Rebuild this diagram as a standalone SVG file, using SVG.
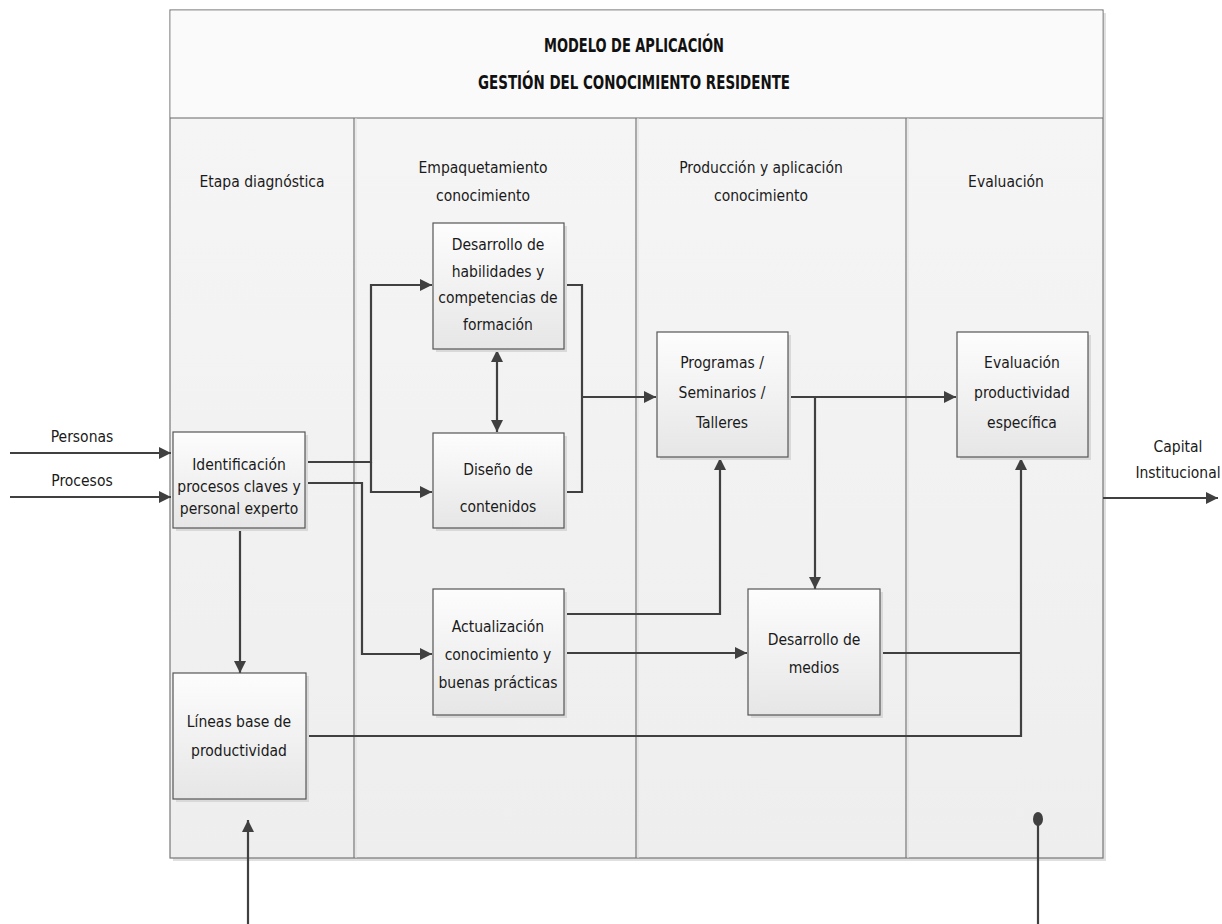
<svg xmlns="http://www.w3.org/2000/svg" width="1222" height="924" viewBox="0 0 1222 924">
<style>
.t{font-family:"Liberation Sans Narrow","DejaVu Sans Condensed","Liberation Sans",sans-serif;font-size:15.5px;fill:#1a1a1a;text-anchor:middle}
.h{font-family:"Liberation Sans Narrow","DejaVu Sans Condensed","Liberation Sans",sans-serif;font-size:19px;font-weight:bold;fill:#111;text-anchor:middle}
.box{fill:url(#ng);stroke:#555;stroke-width:1.2}
.sh{fill:#d9d9d9}
.c{fill:none;stroke:#404040;stroke-width:2.2}
.div{stroke:#777;stroke-width:1.2}
.divl{stroke:#ddd;stroke-width:1}
</style>
<defs>
<linearGradient id="ng" x1="0" y1="0" x2="0" y2="1"><stop offset="0" stop-color="#fdfdfd"/><stop offset="1" stop-color="#e6e6e6"/></linearGradient>
<linearGradient id="bg" x1="0" y1="0" x2="0" y2="1"><stop offset="0" stop-color="#f6f6f6"/><stop offset="1" stop-color="#eeeeee"/></linearGradient>
<marker id="ab" viewBox="0 0 10 10" refX="10" refY="5" markerWidth="12" markerHeight="12" markerUnits="userSpaceOnUse" orient="auto-start-reverse"><path d="M0,0 L10,5 L0,10 z" fill="#404040"/></marker>
</defs>
<rect width="1222" height="924" fill="#fff"/>
<g id="frame">
<rect x="173" y="13" width="933" height="848" fill="#e0e0e0"/>
<rect x="170" y="10" width="933" height="848" fill="url(#bg)" stroke="#777" stroke-width="1.2"/>
<rect x="170.6" y="10.6" width="931.8" height="107.4" fill="#fafafa"/>
<line x1="170" y1="118" x2="1103" y2="118" stroke="#666" stroke-width="1.2"/>
<line class="div" x1="354" y1="118" x2="354" y2="858"/><line class="divl" x1="356" y1="118" x2="356" y2="858"/>
<line class="div" x1="636" y1="118" x2="636" y2="858"/><line class="divl" x1="638" y1="118" x2="638" y2="858"/>
<line class="div" x1="906" y1="118" x2="906" y2="858"/><line class="divl" x1="908" y1="118" x2="908" y2="858"/>
<text class="h" x="634" y="52" textLength="180" lengthAdjust="spacingAndGlyphs">MODELO DE APLICACIÓN</text>
<text class="h" x="634" y="89" textLength="312" lengthAdjust="spacingAndGlyphs">GESTIÓN DEL CONOCIMIENTO RESIDENTE</text>
<text class="t" x="262" y="187">Etapa diagnóstica</text>
<text class="t" x="483" y="173">Empaquetamiento</text>
<text class="t" x="483" y="201">conocimiento</text>
<text class="t" x="761" y="173">Producción y aplicación</text>
<text class="t" x="761" y="201">conocimiento</text>
<text class="t" x="1006" y="187">Evaluación</text>
</g>
<g id="connectors">
<line class="c" x1="10" y1="453" x2="171" y2="453" marker-end="url(#ab)"/>
<line class="c" x1="10" y1="497" x2="171" y2="497" marker-end="url(#ab)"/>
<polyline class="c" points="305,462 371,462 371,285 432,285" marker-end="url(#ab)"/>
<polyline class="c" points="371,462 371,492 432,492" marker-end="url(#ab)"/>
<polyline class="c" points="305,483 362,483 362,654 432,654" marker-end="url(#ab)"/>
<line class="c" x1="240" y1="528" x2="240" y2="673" marker-end="url(#ab)"/>
<line class="c" x1="497" y1="350" x2="497" y2="432" marker-start="url(#ab)" marker-end="url(#ab)"/>
<polyline class="c" points="564,285 582,285 582,492 564,492"/>
<line class="c" x1="582" y1="397" x2="656" y2="397" marker-end="url(#ab)"/>
<line class="c" x1="788" y1="397" x2="956" y2="397" marker-end="url(#ab)"/>
<line class="c" x1="815" y1="397" x2="815" y2="589" marker-end="url(#ab)"/>
<polyline class="c" points="564,614 720,614 720,458" marker-end="url(#ab)"/>
<line class="c" x1="564" y1="653" x2="747" y2="653" marker-end="url(#ab)"/>
<line class="c" x1="880" y1="653" x2="1021" y2="653"/>
<polyline class="c" points="305,736 1021,736 1021,458" marker-end="url(#ab)"/>
<line class="c" x1="1103" y1="498" x2="1218" y2="498" marker-end="url(#ab)"/>
<line class="c" x1="248" y1="924" x2="248" y2="820" marker-end="url(#ab)"/>
<line class="c" x1="1038" y1="924" x2="1038" y2="822"/>
<ellipse cx="1038" cy="819" rx="5" ry="7" fill="#404040"/>
<text class="t" x="82" y="442">Personas</text>
<text class="t" x="82" y="486">Procesos</text>
<text class="t" x="1178" y="452">Capital</text>
<text class="t" x="1178" y="478">Institucional</text>
</g>
<g id="n_ident"><rect class="sh" x="176" y="435" width="132" height="96"/><rect class="box" x="173" y="432" width="132" height="96"/>
<text class="t" x="239" y="470">Identificación</text><text class="t" x="239" y="492">procesos claves y</text><text class="t" x="239" y="514">personal experto</text></g>
<g id="n_lineas"><rect class="sh" x="176" y="676" width="133" height="126"/><rect class="box" x="173" y="673" width="133" height="126"/>
<text class="t" x="239" y="727">Líneas base de</text><text class="t" x="239" y="756">productividad</text></g>
<g id="n_habil"><rect class="sh" x="436" y="226" width="131" height="126"/><rect class="box" x="433" y="223" width="131" height="126"/>
<text class="t" x="498" y="250">Desarrollo de</text><text class="t" x="498" y="277">habilidades y</text><text class="t" x="498" y="303">competencias de</text><text class="t" x="498" y="330">formación</text></g>
<g id="n_diseno"><rect class="sh" x="436" y="436" width="131" height="95"/><rect class="box" x="433" y="433" width="131" height="95"/>
<text class="t" x="498" y="475">Diseño de</text><text class="t" x="498" y="512">contenidos</text></g>
<g id="n_actual"><rect class="sh" x="436" y="592" width="131" height="126"/><rect class="box" x="433" y="589" width="131" height="126"/>
<text class="t" x="498" y="632">Actualización</text><text class="t" x="498" y="660">conocimiento y</text><text class="t" x="498" y="688">buenas prácticas</text></g>
<g id="n_program"><rect class="sh" x="660" y="335" width="131" height="125"/><rect class="box" x="657" y="332" width="131" height="125"/>
<text class="t" x="722" y="368">Programas /</text><text class="t" x="722" y="398">Seminarios /</text><text class="t" x="722" y="428">Talleres</text></g>
<g id="n_medios"><rect class="sh" x="751" y="592" width="132" height="126"/><rect class="box" x="748" y="589" width="132" height="126"/>
<text class="t" x="814" y="645">Desarrollo de</text><text class="t" x="814" y="673">medios</text></g>
<g id="n_eval"><rect class="sh" x="960" y="335" width="131" height="125"/><rect class="box" x="957" y="332" width="131" height="125"/>
<text class="t" x="1022" y="368">Evaluación</text><text class="t" x="1022" y="398">productividad</text><text class="t" x="1022" y="428">específica</text></g>
</svg>
